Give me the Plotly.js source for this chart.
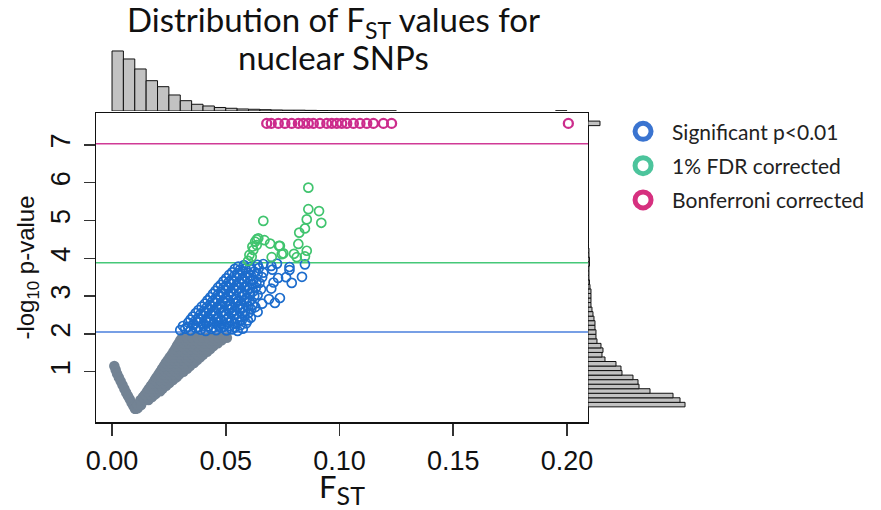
<!DOCTYPE html>
<html>
<head>
<meta charset="utf-8">
<script src="https://cdn.plot.ly/plotly-3.0.1.min.js"></script>
<style>html,body{margin:0;padding:0;background:#fff;}#chart{width:881px;height:510px;}</style>
</head>
<body>
<div id="chart"></div>
<script>
// ---------- data ----------
const fstTickVals = [0, 0.05, 0.10, 0.15, 0.20];
const fstTickText = ['0.00', '0.05', '0.10', '0.15', '0.20'];
const pTickVals = [1, 2, 3, 4, 5, 6, 7];

const thresholds = [2.05, 3.88, 7.03];   // p<0.01, 1% FDR, Bonferroni

// grey (non-significant) SNPs
const greyX = [
  0.0010,0.0016,0.0022,0.0030,0.0038,0.0046,0.0054,0.0062,0.0070,0.0078,0.0086,0.0094,0.0102,
  0.0102,0.0112,
  0.0112,0.0128,
  0.0125,0.0145,0.0160,
  0.0136,0.0156,0.0176,
  0.0145,0.0168,0.0190,
  0.0154,0.0176,0.0198,0.0212,
  0.0162,0.0185,0.0208,0.0222,
  0.0171,0.0194,0.0217,0.0238,
  0.0180,0.0203,0.0226,0.0252,
  0.0188,0.0211,0.0234,0.0257,0.0268,
  0.0195,0.0218,0.0241,0.0264,0.0283,
  0.0204,0.0227,0.0250,0.0273,0.0296,
  0.0212,0.0235,0.0258,0.0281,0.0304,0.0314,
  0.0220,0.0243,0.0266,0.0289,0.0312,0.0330,
  0.0228,0.0251,0.0274,0.0297,0.0320,0.0343,
  0.0236,0.0259,0.0282,0.0305,0.0328,0.0351,0.0360,
  0.0244,0.0267,0.0290,0.0313,0.0336,0.0359,0.0373,
  0.0253,0.0276,0.0299,0.0322,0.0345,0.0368,0.0388,
  0.0262,0.0285,0.0308,0.0331,0.0354,0.0377,0.0400,
  0.0270,0.0293,0.0316,0.0339,0.0362,0.0385,0.0408,0.0418,
  0.0278,0.0301,0.0324,0.0347,0.0370,0.0393,0.0416,0.0432,
  0.0285,0.0308,0.0331,0.0354,0.0377,0.0400,0.0423,0.0446,
  0.0292,0.0315,0.0338,0.0361,0.0384,0.0407,0.0430,0.0453,0.0465,
  0.0300,0.0323,0.0346,0.0369,0.0392,0.0415,0.0438,0.0461,0.0482,
  0.0308,0.0331,0.0354,0.0377,0.0400,0.0423,0.0446,0.0469,0.0492,0.0505
];
const greyY = [
  1.15,1.05,0.95,0.85,0.75,0.65,0.55,0.45,0.36,0.27,0.18,0.09,0.02,
  0.02,0.03,
  0.12,0.12,
  0.25,0.25,0.25,
  0.33,0.33,0.33,
  0.40,0.40,0.40,
  0.48,0.48,0.48,0.48,
  0.55,0.55,0.55,0.55,
  0.63,0.63,0.63,0.63,
  0.70,0.70,0.70,0.70,
  0.78,0.78,0.78,0.78,0.78,
  0.85,0.85,0.85,0.85,0.85,
  0.93,0.93,0.93,0.93,0.93,
  1.00,1.00,1.00,1.00,1.00,1.00,
  1.08,1.08,1.08,1.08,1.08,1.08,
  1.15,1.15,1.15,1.15,1.15,1.15,
  1.23,1.23,1.23,1.23,1.23,1.23,1.23,
  1.30,1.30,1.30,1.30,1.30,1.30,1.30,
  1.38,1.38,1.38,1.38,1.38,1.38,1.38,
  1.45,1.45,1.45,1.45,1.45,1.45,1.45,
  1.53,1.53,1.53,1.53,1.53,1.53,1.53,1.53,
  1.60,1.60,1.60,1.60,1.60,1.60,1.60,1.60,
  1.68,1.68,1.68,1.68,1.68,1.68,1.68,1.68,
  1.75,1.75,1.75,1.75,1.75,1.75,1.75,1.75,1.75,
  1.83,1.83,1.83,1.83,1.83,1.83,1.83,1.83,1.83,
  1.90,1.90,1.90,1.90,1.90,1.90,1.90,1.90,1.90,1.90
];

// blue: significant p<0.01
const blueX = [
  0.0300,0.0322,0.0345,0.0368,0.0390,0.0412,0.0436,0.0458,0.0480,0.0503,0.0527,0.0552,0.0575,
  0.0312,0.0334,0.0356,0.0379,0.0401,0.0424,0.0447,0.0469,0.0492,0.0515,0.0540,0.0565,
  0.0335,0.0358,0.0380,0.0402,0.0425,0.0448,0.0470,0.0494,0.0516,0.0540,0.0563,0.0590,
  0.0345,0.0368,0.0390,0.0412,0.0435,0.0457,0.0480,0.0502,0.0525,0.0548,0.0571,0.0597,
  0.0355,0.0378,0.0400,0.0421,0.0444,0.0466,0.0489,0.0512,0.0535,0.0558,0.0582,0.0610,
  0.0368,0.0390,0.0412,0.0434,0.0456,0.0479,0.0502,0.0525,0.0548,0.0572,0.0598,
  0.0380,0.0402,0.0425,0.0447,0.0470,0.0492,0.0515,0.0538,0.0561,0.0585,0.0612,0.0640,
  0.0394,0.0416,0.0438,0.0460,0.0483,0.0506,0.0529,0.0552,0.0575,0.0600,0.0630,
  0.0408,0.0430,0.0452,0.0475,0.0497,0.0520,0.0543,0.0566,0.0590,0.0618,0.0660,0.0716,
  0.0420,0.0442,0.0464,0.0487,0.0510,0.0533,0.0556,0.0580,0.0605,
  0.0432,0.0455,0.0477,0.0500,0.0523,0.0546,0.0570,0.0595,0.0625,0.0690,0.0738,
  0.0444,0.0466,0.0489,0.0512,0.0535,0.0558,0.0582,0.0608,0.0640,
  0.0455,0.0478,0.0500,0.0523,0.0546,0.0570,0.0594,0.0620,0.0655,0.0700,
  0.0466,0.0489,0.0512,0.0535,0.0558,0.0581,0.0606,0.0632,
  0.0478,0.0500,0.0523,0.0546,0.0569,0.0593,0.0618,0.0648,0.0710,0.0790,
  0.0490,0.0513,0.0536,0.0559,0.0582,0.0607,0.0635,
  0.0502,0.0525,0.0548,0.0571,0.0595,0.0622,0.0660,0.0730,0.0765,0.0835,
  0.0515,0.0538,0.0561,0.0585,0.0610,0.0640,
  0.0528,0.0551,0.0574,0.0598,0.0625,0.0665,0.0705,0.0780,
  0.0540,0.0563,0.0587,0.0612,0.0645,
  0.0555,0.0580,0.0608,0.0640,0.0665,0.0700,0.0725,0.0780,0.0848
];
const blueY = [
  2.10,2.14,2.09,2.15,2.11,2.08,2.13,2.10,2.16,2.09,2.12,2.08,2.14,
  2.21,2.19,2.23,2.18,2.22,2.20,2.17,2.22,2.19,2.21,2.18,2.23,
  2.30,2.26,2.32,2.27,2.33,2.28,2.31,2.25,2.30,2.27,2.33,2.28,
  2.38,2.36,2.39,2.35,2.37,2.40,2.36,2.38,2.35,2.39,2.37,2.36,
  2.46,2.42,2.48,2.44,2.49,2.43,2.47,2.44,2.50,2.45,2.48,2.43,
  2.55,2.53,2.56,2.52,2.54,2.57,2.53,2.55,2.52,2.56,2.54,
  2.63,2.60,2.65,2.61,2.66,2.60,2.64,2.62,2.67,2.60,2.65,2.58,
  2.72,2.70,2.73,2.69,2.71,2.74,2.70,2.72,2.69,2.73,2.71,
  2.80,2.77,2.83,2.78,2.82,2.76,2.81,2.79,2.84,2.77,2.80,2.82,
  2.89,2.87,2.90,2.86,2.88,2.91,2.87,2.89,2.86,
  2.97,2.94,3.00,2.95,2.99,2.93,2.98,2.95,3.00,2.92,2.95,
  3.06,3.04,3.07,3.03,3.05,3.08,3.04,3.06,3.03,
  3.14,3.11,3.17,3.12,3.16,3.10,3.15,3.12,3.18,3.20,
  3.23,3.21,3.24,3.20,3.22,3.25,3.21,3.23,
  3.30,3.27,3.33,3.28,3.32,3.26,3.31,3.35,3.36,3.35,
  3.39,3.37,3.40,3.36,3.38,3.41,3.37,
  3.47,3.44,3.50,3.45,3.49,3.43,3.50,3.48,3.50,3.51,
  3.56,3.54,3.57,3.53,3.55,3.58,
  3.63,3.60,3.66,3.61,3.65,3.62,3.70,3.69,
  3.72,3.70,3.73,3.71,3.74,
  3.78,3.82,3.77,3.83,3.85,3.80,3.86,3.77,3.84
];

// green: 1% FDR corrected
const greenX = [0.0665,0.0863,0.0863,0.0910,0.0856,0.0920,0.0848,0.0823,0.0819,0.0800,0.0848,0.0856,0.0812,
  0.0629,0.0643,0.0636,0.0670,0.0695,0.0738,0.0753,0.0702,0.0621,0.0614,0.0636,0.0617,0.0604,0.0598,0.0746,0.0734];
const greenY = [4.99,5.87,5.30,5.25,5.03,4.94,4.79,4.68,4.38,4.12,4.05,4.20,4.03,
  4.44,4.53,4.50,4.48,4.39,4.33,4.13,4.03,4.22,4.04,4.35,4.31,4.09,3.93,4.11,4.33];

// magenta: Bonferroni corrected (plotted at the top cap)
const magentaX = [0.0680,0.0700,0.0731,0.0760,0.0790,0.0819,0.0841,0.0863,0.0885,0.0914,0.0944,
  0.0966,0.0988,0.1010,0.1032,0.1061,0.1090,0.1120,0.1149,0.1193,0.1229,0.2006];
const magentaY = [7.57,7.57,7.57,7.57,7.57,7.57,7.57,7.57,7.57,7.57,7.57,
  7.57,7.57,7.57,7.57,7.57,7.57,7.57,7.57,7.57,7.57,7.57];

// top marginal histogram of FST (bin centres, counts)
const fstBinCenters = [0.0025,0.0075,0.0125,0.0175,0.0225,0.0275,0.0325,0.0375,0.0425,0.0475,
  0.0525,0.0575,0.0625,0.0675,0.0725,0.0775,0.0825,0.0875,0.0925,0.0975,0.1025,0.1075,0.1125,0.1175,0.1225,0.1975];
const fstCounts = [600,520,420,303,243,160,103,67,50,35,27,20,17,13,10,8,8,6,4,3,3,2,2,2,1,2];

// right marginal histogram of -log10 p (bin centres, counts)
const pBinCenters = [0.13,0.25,0.37,0.49,0.61,0.73,0.85,0.97,1.09,1.21,1.33,1.45,1.57,1.69,1.81,1.93,
  2.05,2.17,2.29,2.41,2.53,2.65,2.77,2.89,3.01,3.13,3.25,3.37,3.49,3.61,3.73,3.85,3.97,4.09,4.21,4.33,4.45,7.57];
const pCounts = [970,920,850,620,510,500,450,340,330,280,170,140,150,130,90,80,
  80,70,70,60,50,40,30,30,30,30,20,15,10,10,10,15,15,10,10,5,5,120];

const legendLabels = ['Significant p<0.01', '1% FDR corrected', 'Bonferroni corrected'];
const legendColors = ['#3a74d0', '#4cc49c', '#d6307f'];

// ---------- traces ----------
const traces = [
  {type:'scatter', mode:'markers', x:greyX, y:greyY, showlegend:false, hoverinfo:'skip',
   marker:{symbol:'circle', size:10.5, color:'#738394'}},
  {type:'scatter', mode:'markers', x:blueX, y:blueY, showlegend:false,
   marker:{symbol:'circle-open', size:9, color:'#1c6ccc', line:{width:1.7}}},
  {type:'scatter', mode:'markers', x:greenX, y:greenY, showlegend:false,
   marker:{symbol:'circle-open', size:9, color:'#40c46e', line:{width:1.7}}},
  {type:'scatter', mode:'markers', x:magentaX, y:magentaY, showlegend:false, cliponaxis:false,
   marker:{symbol:'circle-open', size:9, color:'#cc2c8c', line:{width:2.3}}},
  {type:'bar', x:fstBinCenters, y:fstCounts, xaxis:'x2', yaxis:'y2', showlegend:false,
   marker:{color:'#c2c2c2', line:{color:'#111', width:1}}},
  {type:'bar', orientation:'h', x:pCounts, y:pBinCenters, xaxis:'x3', yaxis:'y', showlegend:false,
   marker:{color:'#c2c2c2', line:{color:'#111', width:1}}}
];
legendLabels.forEach((lab, i) => {
  traces.push({type:'scatter', mode:'markers', x:[null], y:[null], name:lab, legendgroup:'g'+i,
    marker:{symbol:'circle-open', size:16, color:legendColors[i], line:{width:6}}});
});

const tickFont = {family:'Liberation Sans, Arial, sans-serif', size:27, color:'#111'};

const layout = {
  width:881, height:510,
  margin:{l:0, r:0, t:0, b:0},
  paper_bgcolor:'#fff', plot_bgcolor:'rgba(0,0,0,0)',
  bargap:0, showlegend:true,
  xaxis:{domain:[0.109, 0.6674], range:[-0.00703, 0.20923], anchor:'y',
    showline:true, mirror:true, linecolor:'#111', linewidth:1.5,
    ticks:'outside', ticklen:12, tickwidth:1.5, tickcolor:'#333',
    tickvals:fstTickVals, ticktext:fstTickText, tickfont:tickFont, ticklabelstandoff:2,
    showgrid:false, zeroline:false, automargin:false,
    title:{text:'F<sub><span style="font-size:25px">ST</span></sub>', font:{family:'Lato, sans-serif', size:31, color:'#111'}, standoff:10}},
  yaxis:{domain:[0.1725, 0.7784], range:[-0.331, 7.844], anchor:'x',
    showline:true, mirror:true, linecolor:'#111', linewidth:1.5,
    ticks:'outside', ticklen:11, tickwidth:1.5, tickcolor:'#333',
    tickvals:pTickVals, tickangle:-90, tickfont:tickFont, ticklabelstandoff:3,
    showgrid:false, zeroline:false, automargin:false,
    title:{text:'-log<sub>10</sub> p-value', font:{family:'Liberation Sans, Arial, sans-serif', size:24, color:'#111'}, standoff:4}},
  xaxis2:{domain:[0.109, 0.6674], range:[-0.00703, 0.20923], anchor:'y2', visible:false},
  yaxis2:{domain:[0.7824, 0.9118], range:[0, 660], anchor:'x2', visible:false},
  xaxis3:{domain:[0.6674, 0.798], range:[0, 1150], anchor:'y', visible:false},
  shapes: [
    {type:'line', xref:'x domain', x0:0, x1:1, yref:'y', y0:thresholds[0], y1:thresholds[0], line:{color:'#4a7fdc', width:1.5}, layer:'below'},
    {type:'line', xref:'x domain', x0:0, x1:1, yref:'y', y0:thresholds[1], y1:thresholds[1], line:{color:'#45c878', width:1.5}, layer:'below'},
    {type:'line', xref:'x domain', x0:0, x1:1, yref:'y', y0:thresholds[2], y1:thresholds[2], line:{color:'#d03a96', width:1.5}, layer:'below'}
  ],
  legend:{x:0.697, y:0.782, xanchor:'left', yanchor:'top', bgcolor:'rgba(0,0,0,0)',
    font:{family:'Lato, sans-serif', size:21, color:'#222'}, itemwidth:48, tracegroupgap:4, traceorder:'grouped'},
  annotations:[
    {text:'Distribution of F<sub>ST</sub> values for', xref:'paper', yref:'paper', x:0.379, y:0.958,
     xanchor:'center', yanchor:'middle', showarrow:false, font:{family:'Lato, sans-serif', size:33, color:'#111'}},
    {text:'nuclear SNPs', xref:'paper', yref:'paper', x:0.379, y:0.889,
     xanchor:'center', yanchor:'middle', showarrow:false, font:{family:'Lato, sans-serif', size:33, color:'#111'}}
  ]
};

Plotly.newPlot('chart', traces, layout, {displayModeBar:false, staticPlot:true});
</script>
</body>
</html>
